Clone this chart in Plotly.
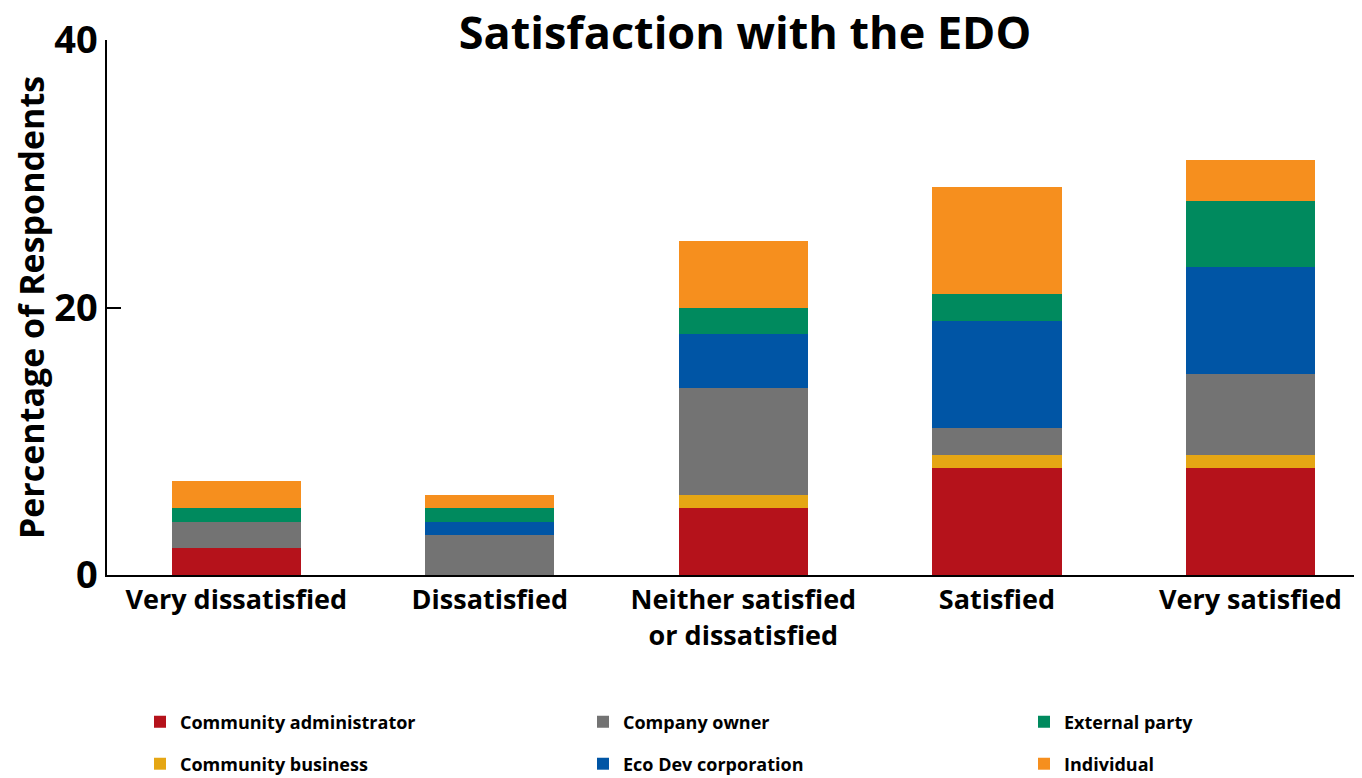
import plotly.graph_objects as go

categories = ["Very dissatisfied", "Dissatisfied", "Neither satisfied<br>or dissatisfied",
              "Satisfied", "Very satisfied"]
community_administrator = [2, 0, 5, 8, 8]
community_business = [0, 0, 1, 1, 1]
company_owner = [2, 3, 8, 2, 6]
eco_dev_corporation = [0, 1, 4, 8, 8]
external_party = [1, 1, 2, 2, 5]
individual = [2, 1, 5, 8, 3]

names = ["Community administrator", "Community business", "Company owner",
         "Eco Dev corporation", "External party", "Individual"]
values = [community_administrator, community_business, company_owner,
          eco_dev_corporation, external_party, individual]
colors = ["#B5121B", "#E5A614", "#737373", "#0055A5", "#008A5E", "#F68F1E"]
# legend placement (column, row) in the 3x2 grid below the chart
grid = [(0, 0), (0, 1), (1, 0), (1, 1), (2, 0), (2, 1)]

FONT = "Open Sans"
W, H = 1354, 770
col_x = [132, 575, 1016]
row_y = [714, 756]

fig = go.Figure()
layout_legends = {}
for i, (name, vals, color) in enumerate(zip(names, values, colors)):
    key = "legend" if i == 0 else f"legend{i + 1}"
    fig.add_trace(go.Bar(
        name=name, x=categories, y=vals,
        marker=dict(color=color, line=dict(width=0)),
        legend=key,
    ))
    c, r = grid[i]
    layout_legends[key] = dict(
        orientation="h", xanchor="left", yanchor="middle",
        x=col_x[c] / W, y=1 - row_y[r] / H,
        xref="container", yref="container",
        font=dict(family=FONT, size=18, color="black", weight="bold"),
        bgcolor="rgba(0,0,0,0)",
    )

fig.update_layout(
    width=W, height=H,
    barmode="stack", bargap=0.49,
    plot_bgcolor="white", paper_bgcolor="white",
    margin=dict(l=99, r=0, t=32, b=203),
    title=dict(text="Satisfaction with the EDO", x=737 / W, xanchor="center",
               y=1 - 25 / H, yanchor="middle",
               font=dict(family=FONT, size=45, color="black", weight="bold")),
    xaxis=dict(
        range=[-0.51, 4.44], showline=True, linecolor="black", linewidth=2,
        ticks="", showgrid=False, automargin=False,
        tickfont=dict(family=FONT, size=27, color="black", weight="bold"),
    ),
    yaxis=dict(
        range=[0, 40], tickvals=[0, 20, 40], showline=True, linecolor="black",
        linewidth=1.5, ticks="inside", ticklen=14, tickwidth=1.5, tickcolor="black",
        showgrid=False, zeroline=False, automargin=False,
        tickfont=dict(family=FONT, size=38, color="black", weight="bold"),
        title=dict(text="Percentage of Respondents", standoff=2,
                   font=dict(family=FONT, size=34, color="black", weight="bold")),
    ),
    showlegend=True,
    **layout_legends,
)

fig.write_html("out.html")
